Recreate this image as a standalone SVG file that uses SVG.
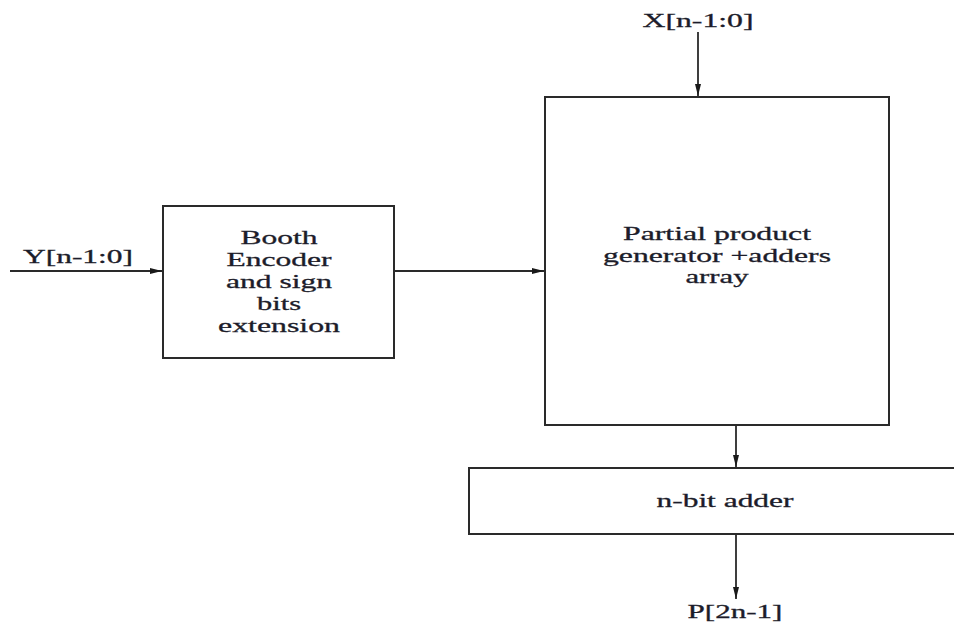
<svg xmlns="http://www.w3.org/2000/svg" width="954" height="623" viewBox="0 0 954 623">
  <style>
    .box { fill: #ffffff; stroke: #2a2a2a; stroke-width: 2; }
    .wire { fill: none; stroke: #2a2a2a; stroke-width: 1.8; }
    .lbl { font-family: "Liberation Serif", "Times New Roman", serif; font-size: 19px; fill: #1c1c2a; stroke: #1c1c2a; stroke-width: 0.3; text-anchor: middle; }
  </style>
  <defs>
    <marker id="arrow" viewBox="0 0 12 6" refX="12" refY="3" markerWidth="12" markerHeight="6" markerUnits="userSpaceOnUse" orient="auto">
      <path d="M0,0 L12,3 L0,6 Z" fill="#1a1a1a"/>
    </marker>
  </defs>
  <rect width="954" height="623" fill="#ffffff"/>

  <g id="connectors">
    <line class="wire" x1="10" y1="271" x2="162" y2="271" marker-end="url(#arrow)"/>
    <line class="wire" x1="394" y1="271" x2="544" y2="271" marker-end="url(#arrow)"/>
    <line class="wire" x1="698" y1="32" x2="698" y2="96" marker-end="url(#arrow)"/>
    <line class="wire" x1="736" y1="425" x2="736" y2="467" marker-end="url(#arrow)"/>
    <line class="wire" x1="736" y1="534" x2="736" y2="599" marker-end="url(#arrow)"/>
  </g>

  <g id="input-y">
    <text class="lbl" x="78" y="263" textLength="110" lengthAdjust="spacingAndGlyphs">Y[n-1:0]</text>
  </g>

  <g id="input-x">
    <text class="lbl" x="698" y="27" textLength="111" lengthAdjust="spacingAndGlyphs">X[n-1:0]</text>
  </g>

  <g id="booth-encoder">
    <rect class="box" x="163" y="206" width="231" height="152"/>
    <text class="lbl" x="279" y="244" textLength="77" lengthAdjust="spacingAndGlyphs">Booth</text>
    <text class="lbl" x="279" y="266" textLength="105" lengthAdjust="spacingAndGlyphs">Encoder</text>
    <text class="lbl" x="279" y="288" textLength="106" lengthAdjust="spacingAndGlyphs">and sign</text>
    <text class="lbl" x="279" y="310" textLength="44" lengthAdjust="spacingAndGlyphs">bits</text>
    <text class="lbl" x="279" y="332" textLength="122" lengthAdjust="spacingAndGlyphs">extension</text>
  </g>

  <g id="partial-product">
    <rect class="box" x="545" y="97" width="344" height="328"/>
    <text class="lbl" x="717" y="240" textLength="188" lengthAdjust="spacingAndGlyphs">Partial product</text>
    <text class="lbl" x="717" y="262" textLength="228" lengthAdjust="spacingAndGlyphs">generator +adders</text>
    <text class="lbl" x="717" y="283" textLength="63" lengthAdjust="spacingAndGlyphs">array</text>
  </g>

  <g id="adder">
    <rect class="box" x="469" y="468" width="500" height="66"/>
    <text class="lbl" x="725" y="507" textLength="137" lengthAdjust="spacingAndGlyphs">n-bit adder</text>
  </g>

  <g id="output-p">
    <text class="lbl" x="735" y="618" textLength="95" lengthAdjust="spacingAndGlyphs">P[2n-1]</text>
  </g>
</svg>
